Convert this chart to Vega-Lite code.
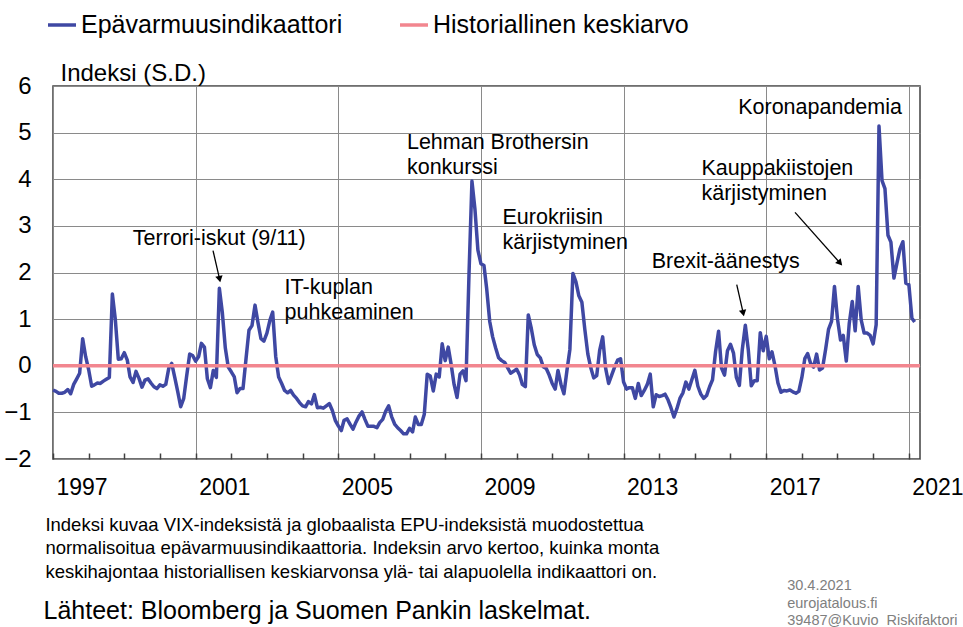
{
"$schema": "https://vega.github.io/schema/vega-lite/v6.json",
"width": 867, "height": 373,
"autosize": {"type": "none"},
"padding": {"left": 53, "top": 86, "right": 43, "bottom": 168},
"background": "white",
"config": {"font": "Liberation Sans", "view": {"stroke": "#404040", "strokeWidth": 1.5}},
"datasets": {
"ind": [
{"date":"1997-01-01","value":-0.52},{"date":"1997-02-01","value":-0.55},{"date":"1997-03-01","value":-0.59},{"date":"1997-04-01","value":-0.59},{"date":"1997-05-01","value":-0.57},{"date":"1997-06-01","value":-0.51},{"date":"1997-07-01","value":-0.60},{"date":"1997-08-01","value":-0.40},{"date":"1997-09-01","value":-0.28},{"date":"1997-10-01","value":-0.16},{"date":"1997-11-01","value":0.58},{"date":"1997-12-01","value":0.20},
{"date":"1998-01-01","value":-0.08},{"date":"1998-02-01","value":-0.44},{"date":"1998-03-01","value":-0.41},{"date":"1998-04-01","value":-0.37},{"date":"1998-05-01","value":-0.38},{"date":"1998-06-01","value":-0.33},{"date":"1998-07-01","value":-0.29},{"date":"1998-08-01","value":-0.25},{"date":"1998-09-01","value":1.54},{"date":"1998-10-01","value":1.00},{"date":"1998-11-01","value":0.14},{"date":"1998-12-01","value":0.15},
{"date":"1999-01-01","value":0.28},{"date":"1999-02-01","value":0.12},{"date":"1999-03-01","value":-0.24},{"date":"1999-04-01","value":-0.36},{"date":"1999-05-01","value":-0.12},{"date":"1999-06-01","value":-0.27},{"date":"1999-07-01","value":-0.46},{"date":"1999-08-01","value":-0.31},{"date":"1999-09-01","value":-0.28},{"date":"1999-10-01","value":-0.37},{"date":"1999-11-01","value":-0.45},{"date":"1999-12-01","value":-0.49},
{"date":"2000-01-01","value":-0.41},{"date":"2000-02-01","value":-0.44},{"date":"2000-03-01","value":-0.40},{"date":"2000-04-01","value":-0.05},{"date":"2000-05-01","value":0.05},{"date":"2000-06-01","value":-0.25},{"date":"2000-07-01","value":-0.55},{"date":"2000-08-01","value":-0.88},{"date":"2000-09-01","value":-0.70},{"date":"2000-10-01","value":-0.22},{"date":"2000-11-01","value":0.25},{"date":"2000-12-01","value":0.22},
{"date":"2001-01-01","value":0.10},{"date":"2001-02-01","value":0.20},{"date":"2001-03-01","value":0.48},{"date":"2001-04-01","value":0.40},{"date":"2001-05-01","value":-0.28},{"date":"2001-06-01","value":-0.47},{"date":"2001-07-01","value":-0.10},{"date":"2001-08-01","value":-0.25},{"date":"2001-09-01","value":1.66},{"date":"2001-10-01","value":1.15},{"date":"2001-11-01","value":0.38},{"date":"2001-12-01","value":-0.03},
{"date":"2002-01-01","value":-0.13},{"date":"2002-02-01","value":-0.24},{"date":"2002-03-01","value":-0.58},{"date":"2002-04-01","value":-0.49},{"date":"2002-05-01","value":-0.49},{"date":"2002-06-01","value":0.15},{"date":"2002-07-01","value":0.76},{"date":"2002-08-01","value":0.86},{"date":"2002-09-01","value":1.30},{"date":"2002-10-01","value":0.93},{"date":"2002-11-01","value":0.58},{"date":"2002-12-01","value":0.53},
{"date":"2003-01-01","value":0.70},{"date":"2003-02-01","value":0.98},{"date":"2003-03-01","value":1.15},{"date":"2003-04-01","value":0.20},{"date":"2003-05-01","value":-0.24},{"date":"2003-06-01","value":-0.38},{"date":"2003-07-01","value":-0.53},{"date":"2003-08-01","value":-0.58},{"date":"2003-09-01","value":-0.53},{"date":"2003-10-01","value":-0.63},{"date":"2003-11-01","value":-0.70},{"date":"2003-12-01","value":-0.79},
{"date":"2004-01-01","value":-0.86},{"date":"2004-02-01","value":-0.88},{"date":"2004-03-01","value":-0.77},{"date":"2004-04-01","value":-0.82},{"date":"2004-05-01","value":-0.62},{"date":"2004-06-01","value":-0.90},{"date":"2004-07-01","value":-0.89},{"date":"2004-08-01","value":-0.91},{"date":"2004-09-01","value":-0.86},{"date":"2004-10-01","value":-0.81},{"date":"2004-11-01","value":-0.96},{"date":"2004-12-01","value":-1.17},
{"date":"2005-01-01","value":-1.29},{"date":"2005-02-01","value":-1.39},{"date":"2005-03-01","value":-1.17},{"date":"2005-04-01","value":-1.14},{"date":"2005-05-01","value":-1.25},{"date":"2005-06-01","value":-1.36},{"date":"2005-07-01","value":-1.21},{"date":"2005-08-01","value":-1.08},{"date":"2005-09-01","value":-0.99},{"date":"2005-10-01","value":-1.15},{"date":"2005-11-01","value":-1.30},{"date":"2005-12-01","value":-1.30},
{"date":"2006-01-01","value":-1.30},{"date":"2006-02-01","value":-1.33},{"date":"2006-03-01","value":-1.22},{"date":"2006-04-01","value":-1.15},{"date":"2006-05-01","value":-0.98},{"date":"2006-06-01","value":-0.86},{"date":"2006-07-01","value":-1.09},{"date":"2006-08-01","value":-1.25},{"date":"2006-09-01","value":-1.33},{"date":"2006-10-01","value":-1.39},{"date":"2006-11-01","value":-1.46},{"date":"2006-12-01","value":-1.46},
{"date":"2007-01-01","value":-1.34},{"date":"2007-02-01","value":-1.42},{"date":"2007-03-01","value":-1.10},{"date":"2007-04-01","value":-1.26},{"date":"2007-05-01","value":-1.26},{"date":"2007-06-01","value":-1.04},{"date":"2007-07-01","value":-0.18},{"date":"2007-08-01","value":-0.22},{"date":"2007-09-01","value":-0.54},{"date":"2007-10-01","value":-0.18},{"date":"2007-11-01","value":-0.24},{"date":"2007-12-01","value":0.47},
{"date":"2008-01-01","value":0.11},{"date":"2008-02-01","value":0.40},{"date":"2008-03-01","value":0.04},{"date":"2008-04-01","value":-0.40},{"date":"2008-05-01","value":-0.68},{"date":"2008-06-01","value":-0.18},{"date":"2008-07-01","value":-0.11},{"date":"2008-08-01","value":-0.32},{"date":"2008-09-01","value":1.98},{"date":"2008-10-01","value":3.96},{"date":"2008-11-01","value":3.35},{"date":"2008-12-01","value":2.48},
{"date":"2009-01-01","value":2.19},{"date":"2009-02-01","value":2.15},{"date":"2009-03-01","value":1.65},{"date":"2009-04-01","value":0.95},{"date":"2009-05-01","value":0.62},{"date":"2009-06-01","value":0.38},{"date":"2009-07-01","value":0.17},{"date":"2009-08-01","value":0.11},{"date":"2009-09-01","value":0.07},{"date":"2009-10-01","value":-0.04},{"date":"2009-11-01","value":-0.16},{"date":"2009-12-01","value":-0.12},
{"date":"2010-01-01","value":-0.07},{"date":"2010-02-01","value":-0.20},{"date":"2010-03-01","value":-0.40},{"date":"2010-04-01","value":-0.45},{"date":"2010-05-01","value":1.09},{"date":"2010-06-01","value":0.80},{"date":"2010-07-01","value":0.45},{"date":"2010-08-01","value":0.24},{"date":"2010-09-01","value":0.17},{"date":"2010-10-01","value":-0.02},{"date":"2010-11-01","value":-0.06},{"date":"2010-12-01","value":-0.20},
{"date":"2011-01-01","value":-0.38},{"date":"2011-02-01","value":-0.50},{"date":"2011-03-01","value":-0.10},{"date":"2011-04-01","value":-0.40},{"date":"2011-05-01","value":-0.60},{"date":"2011-06-01","value":-0.10},{"date":"2011-07-01","value":0.35},{"date":"2011-08-01","value":1.98},{"date":"2011-09-01","value":1.80},{"date":"2011-10-01","value":1.50},{"date":"2011-11-01","value":1.36},{"date":"2011-12-01","value":0.78},
{"date":"2012-01-01","value":0.25},{"date":"2012-02-01","value":-0.05},{"date":"2012-03-01","value":-0.26},{"date":"2012-04-01","value":-0.21},{"date":"2012-05-01","value":0.33},{"date":"2012-06-01","value":0.62},{"date":"2012-07-01","value":-0.05},{"date":"2012-08-01","value":-0.38},{"date":"2012-09-01","value":-0.20},{"date":"2012-10-01","value":-0.03},{"date":"2012-11-01","value":0.12},{"date":"2012-12-01","value":0.15},
{"date":"2013-01-01","value":-0.35},{"date":"2013-02-01","value":-0.50},{"date":"2013-03-01","value":-0.47},{"date":"2013-04-01","value":-0.47},{"date":"2013-05-01","value":-0.70},{"date":"2013-06-01","value":-0.38},{"date":"2013-07-01","value":-0.64},{"date":"2013-08-01","value":-0.53},{"date":"2013-09-01","value":-0.40},{"date":"2013-10-01","value":-0.18},{"date":"2013-11-01","value":-0.88},{"date":"2013-12-01","value":-0.62},
{"date":"2014-01-01","value":-0.66},{"date":"2014-02-01","value":-0.64},{"date":"2014-03-01","value":-0.61},{"date":"2014-04-01","value":-0.73},{"date":"2014-05-01","value":-0.90},{"date":"2014-06-01","value":-1.10},{"date":"2014-07-01","value":-0.92},{"date":"2014-08-01","value":-0.70},{"date":"2014-09-01","value":-0.58},{"date":"2014-10-01","value":-0.35},{"date":"2014-11-01","value":-0.50},{"date":"2014-12-01","value":-0.30},
{"date":"2015-01-01","value":-0.10},{"date":"2015-02-01","value":-0.44},{"date":"2015-03-01","value":-0.60},{"date":"2015-04-01","value":-0.70},{"date":"2015-05-01","value":-0.64},{"date":"2015-06-01","value":-0.45},{"date":"2015-07-01","value":-0.30},{"date":"2015-08-01","value":0.30},{"date":"2015-09-01","value":0.74},{"date":"2015-10-01","value":-0.05},{"date":"2015-11-01","value":-0.20},{"date":"2015-12-01","value":0.32},
{"date":"2016-01-01","value":0.46},{"date":"2016-02-01","value":0.27},{"date":"2016-03-01","value":-0.25},{"date":"2016-04-01","value":-0.42},{"date":"2016-05-01","value":0.35},{"date":"2016-06-01","value":0.87},{"date":"2016-07-01","value":0.35},{"date":"2016-08-01","value":-0.43},{"date":"2016-09-01","value":-0.32},{"date":"2016-10-01","value":-0.32},{"date":"2016-11-01","value":0.71},{"date":"2016-12-01","value":0.32},
{"date":"2017-01-01","value":0.63},{"date":"2017-02-01","value":0.15},{"date":"2017-03-01","value":0.30},{"date":"2017-04-01","value":0.00},{"date":"2017-05-01","value":-0.37},{"date":"2017-06-01","value":-0.57},{"date":"2017-07-01","value":-0.53},{"date":"2017-08-01","value":-0.54},{"date":"2017-09-01","value":-0.52},{"date":"2017-10-01","value":-0.56},{"date":"2017-11-01","value":-0.59},{"date":"2017-12-01","value":-0.55},
{"date":"2018-01-01","value":-0.25},{"date":"2018-02-01","value":0.16},{"date":"2018-03-01","value":0.26},{"date":"2018-04-01","value":0.05},{"date":"2018-05-01","value":-0.03},{"date":"2018-06-01","value":0.25},{"date":"2018-07-01","value":-0.09},{"date":"2018-08-01","value":-0.05},{"date":"2018-09-01","value":0.35},{"date":"2018-10-01","value":0.78},{"date":"2018-11-01","value":0.95},{"date":"2018-12-01","value":1.70},
{"date":"2019-01-01","value":1.00},{"date":"2019-02-01","value":0.55},{"date":"2019-03-01","value":0.65},{"date":"2019-04-01","value":0.10},{"date":"2019-05-01","value":0.90},{"date":"2019-06-01","value":1.38},{"date":"2019-07-01","value":0.75},{"date":"2019-08-01","value":1.70},{"date":"2019-09-01","value":0.98},{"date":"2019-10-01","value":0.70},{"date":"2019-11-01","value":0.70},{"date":"2019-12-01","value":0.65},
{"date":"2020-01-01","value":0.47},{"date":"2020-02-01","value":0.88},{"date":"2020-03-01","value":5.14},{"date":"2020-04-01","value":3.97},{"date":"2020-05-01","value":3.80},{"date":"2020-06-01","value":2.80},{"date":"2020-07-01","value":2.65},{"date":"2020-08-01","value":1.88},{"date":"2020-09-01","value":2.20},{"date":"2020-10-01","value":2.50},{"date":"2020-11-01","value":2.66},{"date":"2020-12-01","value":1.77},
{"date":"2021-01-01","value":1.74},{"date":"2021-02-01","value":1.02},{"date":"2021-03-01","value":0.94}
],
"mean": [{"date":"1997-01-01","value":0},{"date":"2021-04-25","value":0}],
"notes": [
{"date":"1999-03-30","value":2.58,"label":"Terrori-iskut (9/11)"},
{"date":"2003-07-01","value":1.53,"label":"IT-kuplan\npuhkeaminen"},
{"date":"2006-12-05","value":4.65,"label":"Lehman Brothersin\nkonkurssi"},
{"date":"2009-08-10","value":3.05,"label":"Eurokriisin\nkärjistyminen"},
{"date":"2013-10-16","value":2.09,"label":"Brexit-äänestys"},
{"date":"2015-03-10","value":4.10,"label":"Kauppakiistojen\nkärjistyminen"},
{"date":"2016-03-20","value":5.40,"label":"Koronapandemia"}
],
"arrows": [
{"name":"terror","date":"2001-06-28","value":2.47,"date2":"2001-09-01","value2":1.88},
{"name":"brexit","date":"2016-03-05","value":1.74,"date2":"2016-05-08","value2":1.15},
{"name":"trade","date":"2017-10-23","value":3.29,"date2":"2019-01-20","value2":2.22}
],
"footnote": [{"date":"1996-10-15","value":-3.54,"label":"Indeksi kuvaa VIX-indeksistä ja globaalista EPU-indeksistä muodostettua\nnormalisoitua epävarmuusindikaattoria. Indeksin arvo kertoo, kuinka monta\nkeskihajontaa historiallisen keskiarvonsa ylä- tai alapuolella indikaattori on."}],
"sources": [{"date":"1996-09-26","value":-5.44,"label":"Lähteet: Bloomberg ja Suomen Pankin laskelmat."}],
"stamp": [{"date":"2017-08-04","value":-4.82,"label":"30.4.2021\neurojatalous.fi\n39487@Kuvio_Riskifaktori"}]
},
"layer": [
{
"data": {"name": "ind"},
"mark": {"type": "line", "strokeWidth": 3.5, "strokeJoin": "round"},
"encoding": {
"x": {"field": "date", "type": "temporal",
 "scale": {"type": "utc", "domain": [{"year":1997,"month":1,"date":1,"utc":true},{"year":2021,"month":4,"date":25,"utc":true}], "nice": false},
 "axis": {"orient": "top", "values": [{"year":1997,"month":1,"date":1,"utc":true},{"year":2001,"month":1,"date":1,"utc":true},{"year":2005,"month":1,"date":1,"utc":true},{"year":2009,"month":1,"date":1,"utc":true},{"year":2013,"month":1,"date":1,"utc":true},{"year":2017,"month":1,"date":1,"utc":true},{"year":2021,"month":1,"date":1,"utc":true}], "grid": true, "gridColor": "#8a8a8a", "gridWidth": 1, "ticks": false, "labels": false, "domain": false, "title": null}},
"y": {"field": "value", "type": "quantitative",
 "scale": {"domain": [-2, 6], "nice": false, "zero": false},
 "axis": {"values": [-2,-1,0,1,2,3,4,5,6], "grid": true, "gridColor": "#8a8a8a", "gridWidth": 1, "domain": false, "ticks": false, "labelFontSize": 24, "labelPadding": 22, "labelColor": "black", "title": "Indeksi (S.D.)", "titleAngle": 0, "titleX": 7, "titleY": -6, "titleAlign": "left", "titleBaseline": "alphabetic", "titleFontSize": 24, "titleFontWeight": "normal", "titleColor": "black"}},
"color": {"datum": "Epävarmuusindikaattori", "type": "nominal",
 "scale": {"domain": ["Epävarmuusindikaattori", "Historiallinen keskiarvo"], "range": ["#3f48a3", "#f2868f"]},
 "legend": {"orient": "none", "legendX": -7, "legendY": -77, "direction": "horizontal", "title": null, "symbolType": "stroke", "symbolSize": 784, "symbolStrokeWidth": 3.5, "labelFontSize": 25, "labelOffset": 3, "columnPadding": 50, "labelLimit": 500, "padding": 0, "labelColor": "black"}}
}
},
{
"data": {"name": "mean"},
"mark": {"type": "line", "strokeWidth": 3.5},
"encoding": {
"x": {"field": "date", "type": "temporal",
 "axis": {"orient": "bottom", "tickCount": {"interval": "year", "step": 1}, "labelExpr": "utcyear(datum.value) % 4 == 1 ? utcFormat(datum.value, '%Y') : ''", "grid": false, "domain": false, "ticks": true, "tickSize": -6, "tickColor": "#404040", "tickWidth": 1.5, "labelFontSize": 23, "labelAlign": "left", "labelOffset": 3, "labelPadding": 23, "labelOverlap": false, "labelFlush": false, "labelBound": false, "labelColor": "black", "title": null}},
"y": {"field": "value", "type": "quantitative"},
"color": {"datum": "Historiallinen keskiarvo", "type": "nominal"}
}
},
{
"data": {"name": "notes"},
"mark": {"type": "text", "align": "left", "baseline": "alphabetic", "fontSize": 21.5, "lineBreak": "\n", "lineHeight": 25, "color": "black"},
"encoding": {
"x": {"field": "date", "type": "temporal", "axis": null},
"y": {"field": "value", "type": "quantitative"},
"text": {"field": "label"}
}
},
{
"data": {"name": "arrows"},
"mark": {"type": "rule", "color": "black", "strokeWidth": 1.3},
"encoding": {
"x": {"field": "date", "type": "temporal", "axis": null},
"x2": {"field": "date2"},
"y": {"field": "value", "type": "quantitative"},
"y2": {"field": "value2"}
}
},
{
"data": {"name": "arrows"},
"transform": [{"filter": "datum.name != 'trade'"}],
"mark": {"type": "point", "shape": "triangle", "filled": true, "color": "black", "size": 55, "angle": 168, "opacity": 1},
"encoding": {
"x": {"field": "date2", "type": "temporal", "axis": null},
"y": {"field": "value2", "type": "quantitative"}
}
},
{
"data": {"name": "arrows"},
"transform": [{"filter": "datum.name == 'trade'"}],
"mark": {"type": "point", "shape": "triangle", "filled": true, "color": "black", "size": 55, "angle": 139, "opacity": 1},
"encoding": {
"x": {"field": "date2", "type": "temporal", "axis": null},
"y": {"field": "value2", "type": "quantitative"}
}
},
{
"data": {"name": "footnote"},
"mark": {"type": "text", "align": "left", "baseline": "alphabetic", "fontSize": 18.5, "lineBreak": "\n", "lineHeight": 23.5, "color": "black"},
"encoding": {
"x": {"field": "date", "type": "temporal", "axis": null},
"y": {"field": "value", "type": "quantitative"},
"text": {"field": "label"}
}
},
{
"data": {"name": "sources"},
"mark": {"type": "text", "align": "left", "baseline": "alphabetic", "fontSize": 25, "color": "black"},
"encoding": {
"x": {"field": "date", "type": "temporal", "axis": null},
"y": {"field": "value", "type": "quantitative"},
"text": {"field": "label"}
}
},
{
"data": {"name": "stamp"},
"mark": {"type": "text", "align": "left", "baseline": "alphabetic", "fontSize": 14.5, "lineBreak": "\n", "lineHeight": 17.5, "color": "#808080"},
"encoding": {
"x": {"field": "date", "type": "temporal", "axis": null},
"y": {"field": "value", "type": "quantitative"},
"text": {"field": "label"}
}
}
],
"resolve": {"axis": {"x": "independent"}}
}
